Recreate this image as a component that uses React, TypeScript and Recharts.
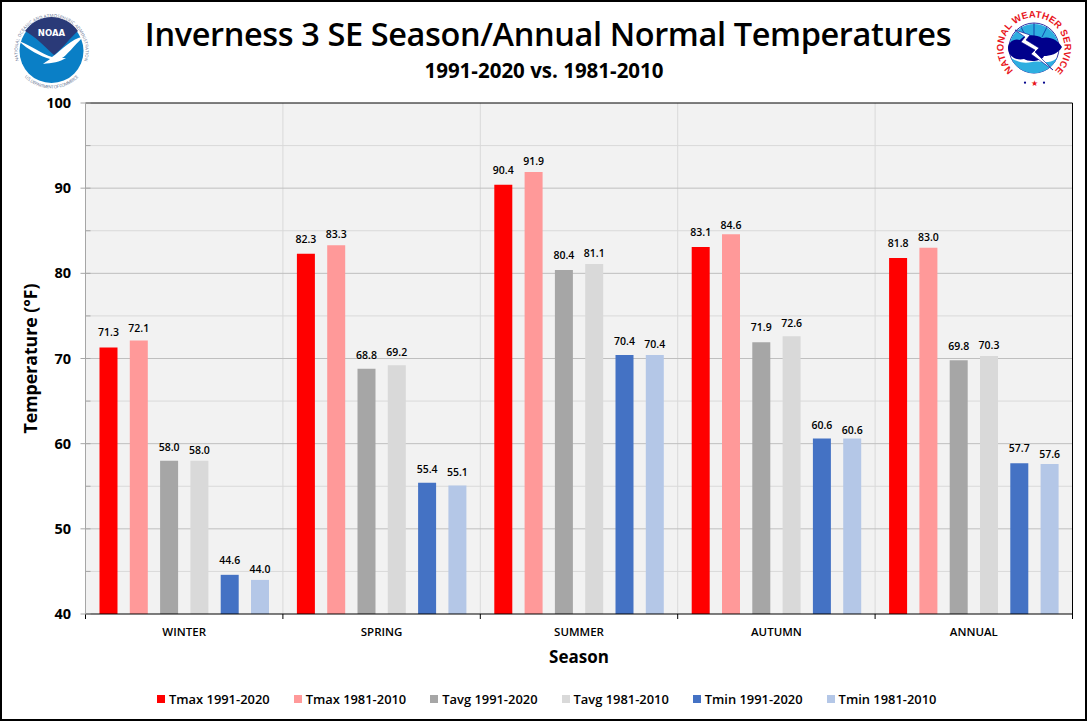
import { BarChart, Bar, XAxis, YAxis, CartesianGrid, Legend, LabelList, ReferenceLine } from 'recharts';

const seasons = ['WINTER', 'SPRING', 'SUMMER', 'AUTUMN', 'ANNUAL'];
const tmax9120 = [71.3, 82.3, 90.4, 83.1, 81.8];
const tmax8110 = [72.1, 83.3, 91.9, 84.6, 83.0];
const tavg9120 = [58.0, 68.8, 80.4, 71.9, 69.8];
const tavg8110 = [58.0, 69.2, 81.1, 72.6, 70.3];
const tmin9120 = [44.6, 55.4, 70.4, 60.6, 57.7];
const tmin8110 = [44.0, 55.1, 70.4, 60.6, 57.6];

const yTicks = [40, 45, 50, 55, 60, 65, 70, 75, 80, 85, 90, 95, 100];
const majorGrid = [50, 60, 70, 80, 90];
const minorGrid = [45, 55, 65, 75, 85, 95];

const series = [
  { key: 'tmax9120', name: 'Tmax 1991-2020', color: '#FF0000', values: tmax9120 },
  { key: 'tmax8110', name: 'Tmax 1981-2010', color: '#FF9999', values: tmax8110 },
  { key: 'tavg9120', name: 'Tavg 1991-2020', color: '#A6A6A6', values: tavg9120 },
  { key: 'tavg8110', name: 'Tavg 1981-2010', color: '#D9D9D9', values: tavg8110 },
  { key: 'tmin9120', name: 'Tmin 1991-2020', color: '#4472C4', values: tmin9120 },
  { key: 'tmin8110', name: 'Tmin 1981-2010', color: '#B4C7E7', values: tmin8110 },
];

// how far each value label floats above its bar, the original's labels are not evenly placed
const labelLift: Record<string, number[]> = {
  tmax9120: [11, 10.5, 10.5, 10.5, 11.5],
  tmax8110: [8.5, 7, 6.5, 5, 6.5],
  tavg9120: [10, 10, 10.5, 11, 10],
  tavg8110: [7, 9.5, 6.5, 9.5, 6.5],
  tmin9120: [10.5, 9.5, 10.5, 10, 11],
  tmin8110: [6.5, 9, 7.5, 5, 6.5],
};

const data = seasons.map((season, i) => {
  const row: Record<string, string | number> = { season };
  series.forEach(s => { row[s.key] = s.values[i]; });
  return row;
});

const FONT = '"Open Sans", "Noto Sans", sans-serif';
const plotLeft = 85.5;
const plotRight = 1072.5;
const plotTop = 103;
const plotBottom = 614;
const band = (plotRight - plotLeft) / seasons.length;

function XTick({ x, index, payload }: any) {
  const left = x - band / 2;
  return (
    <g>
      <line x1={left} x2={left} y1={plotBottom} y2={plotBottom + 5} stroke="#000" />
      {index === seasons.length - 1 && (
        <line x1={plotRight} x2={plotRight} y1={plotTop} y2={plotBottom + 5} stroke="#000" />
      )}
      <text x={x} y={636} textAnchor="middle" fontFamily={FONT} fontSize={11.5} fontWeight={600} fill="#000">
        {payload.value}
      </text>
    </g>
  );
}

function YTick({ y, payload }: any) {
  const major = payload.value % 10 === 0;
  return (
    <g>
      <line x1={major ? plotLeft - 5 : plotLeft} x2={plotLeft + 5} y1={y} y2={y} stroke="#a6a6a6" />
      {major && (
        <text x={71} y={y + 5} textAnchor="end" fontFamily={FONT} fontSize={14.5} fontWeight={700} fill="#000">
          {payload.value}
        </text>
      )}
    </g>
  );
}

function LegendRow({ payload }: any) {
  return (
    <div style={{ display: 'flex', fontFamily: FONT, fontSize: 12.9, fontWeight: 600, color: '#000' }}>
      {(payload || []).map((p: any) => (
        <div key={p.value} style={{ marginRight: 24, display: 'flex', alignItems: 'center', whiteSpace: 'nowrap' }}>
          <span style={{ width: 8, height: 8, background: p.color, marginRight: 4, display: 'inline-block' }} />
          {p.value}
        </div>
      ))}
    </div>
  );
}

function NoaaLogo() {
  return (
    <svg width={80} height={80} viewBox="0 0 80 80" style={{ position: 'absolute', left: 12, top: 12 }}>
      <defs>
        <path id="noaaTop" d="M 7.5 50.6 A 34 34 0 1 1 71.5 50.6" />
        <path id="noaaBottom" d="M 10.8 63.1 A 37.5 37.5 0 0 0 68.2 63.1" />
      </defs>
      <circle cx={39.5} cy={39} r={32} fill="#0a7fc6" />
      <path d="M 13 19 A 32 32 0 0 1 66 19 C 58 26 51 36 42 43 C 33 35 24 25 13 19 Z" fill="#2a3a78" />
      <path d="M 7 29 C 20 34 30 42 40 45 C 50 38 60 26 71 25 C 62 34 54 44 50 46 L 54 46 C 48 50 40 51 31 52 C 35 49 37 48 38 47 C 28 44 16 38 7 29 Z" fill="#fff" />
      <text x={39.5} y={24} textAnchor="middle" fontFamily="DejaVu Sans, sans-serif" fontSize={8.5} fontWeight={700} fill="#fff">NOAA</text>
      <text fontFamily={FONT} fontSize={4.3} fill="#5b6c8c">
        <textPath href="#noaaTop" startOffset="50%" textAnchor="middle" textLength={126}>NATIONAL OCEANIC AND ATMOSPHERIC ADMINISTRATION</textPath>
      </text>
      <text fontFamily={FONT} fontSize={4.3} fill="#5b6c8c">
        <textPath href="#noaaBottom" startOffset="50%" textAnchor="middle" textLength={60}>U.S. DEPARTMENT OF COMMERCE</textPath>
      </text>
    </svg>
  );
}

function NwsLogo() {
  return (
    <svg width={84} height={92} viewBox="0 0 84 92" style={{ position: 'absolute', left: 992, top: 4 }}>
      <defs>
        <path id="nwsTop" d="M 22.4 67.4 A 30.5 30.5 0 1 1 61.6 67.4" />
      </defs>
      <circle cx={42} cy={44} r={25} fill="#fff" stroke="#00008b" strokeWidth={0.8} />
      <path d="M 18 38 A 25 25 0 0 1 66 38 Z" fill="#2eaee0" />
      <path d="M 42 19 L 42 32 M 29 23 L 34 33 M 55 23 L 50 33" stroke="#00008b" strokeWidth={0.6} />
      <path d="M 19 54 A 25 25 0 0 0 65 54 C 55 62 48 56 40 58 C 32 60 26 58 19 54 Z" fill="#2eaee0" />
      <path d="M 16 44 C 16 38 22 34 28 36 C 32 30 44 30 50 34 C 58 32 66 36 70 43 C 66 50 58 52 52 52 C 50 58 36 58 32 55 C 24 57 16 52 16 44 Z" fill="#00008b" />
      <path d="M 23 26 L 38 31 L 34 36 L 47 44 L 43 48 L 61 66 L 39 50 L 43 46 L 29 38 L 33 33 Z" fill="#fff" stroke="#00008b" strokeWidth={0.6} />
      <text fontFamily="Liberation Sans, sans-serif" fontSize={9.5} fontWeight={700} fill="#e8141c">
        <textPath href="#nwsTop" startOffset="50%" textAnchor="middle" textLength={146}>NATIONAL WEATHER SERVICE</textPath>
      </text>
      <circle cx={33} cy={78.7} r={1.1} fill="#00008b" />
      <circle cx={52} cy={78.7} r={1.1} fill="#00008b" />
      <text x={42} y={82} textAnchor="middle" fontSize={8} fill="#e8141c">★</text>
    </svg>
  );
}

export default function App() {
  return (
    <div style={{ position: 'absolute', left: 0, top: 0, width: 1087, height: 721, background: '#fff', overflow: 'hidden' }}>
      <BarChart
        width={1087}
        height={721}
        data={data}
        barSize={18}
        barGap={12.3}
        margin={{ top: plotTop, right: 1087 - plotRight, bottom: 59, left: 0 }}
      >
        <CartesianGrid
          fill="#F2F2F2"
          stroke="#D9D9D9"
          horizontalValues={minorGrid}
          verticalCoordinatesGenerator={() => seasons.slice(1).map((_, i) => plotLeft + band * (i + 1))}
        />
        <CartesianGrid stroke="#BFBFBF" vertical={false} horizontalValues={majorGrid} />
        <XAxis
          dataKey="season"
          height={30}
          axisLine={{ stroke: '#000' }}
          tickLine={false}
          tick={<XTick />}
          interval={0}
          label={{ value: 'Season', position: 'bottom', offset: 7, style: { fontFamily: FONT, fontSize: 17, fontWeight: 700, fill: '#000' } }}
        />
        <YAxis
          width={plotLeft}
          domain={[40, 100]}
          ticks={yTicks}
          interval={0}
          axisLine={{ stroke: '#A6A6A6' }}
          tickLine={false}
          tick={<YTick />}
          label={{
            value: 'Temperature (°F)',
            angle: -90,
            position: 'insideLeft',
            offset: 31,
            style: { textAnchor: 'middle', fontFamily: FONT, fontSize: 17.7, fontWeight: 700, fill: '#000' },
          }}
        />
        <ReferenceLine y={100} stroke="#000" />
        {series.map(s => (
          <Bar key={s.key} dataKey={s.key} name={s.name} fill={s.color} isAnimationActive={false}>
            <LabelList
              dataKey={s.key}
              content={(p: any) => (
                <text
                  x={p.x + p.width / 2}
                  y={p.y - labelLift[s.key][p.index]}
                  textAnchor="middle"
                  fontFamily={FONT}
                  fontSize={10.5}
                  fontWeight={600}
                  fill="#000"
                >
                  {Number(p.value).toFixed(1)}
                </text>
              )}
            />
          </Bar>
        ))}
        <Legend
          height={18}
          itemSorter={null}
          content={<LegendRow />}
          wrapperStyle={{ left: 157, top: 690, width: 880, bottom: 'auto' }}
        />
      </BarChart>
      <div style={{ position: 'absolute', left: 0, top: 11, width: 1096, textAlign: 'center', fontFamily: FONT, fontSize: 32.5, letterSpacing: -0.38, fontWeight: 600, color: '#000', whiteSpace: 'nowrap' }}>
        Inverness 3 SE Season/Annual Normal Temperatures
      </div>
      <div style={{ position: 'absolute', left: 0, top: 56, width: 1088, textAlign: 'center', fontFamily: FONT, fontSize: 20.5, fontWeight: 700, color: '#000', whiteSpace: 'nowrap' }}>
        1991-2020 vs. 1981-2010
      </div>
      <NoaaLogo />
      <NwsLogo />
      <div style={{ position: 'absolute', left: 0, top: 0, width: 1087, height: 721, boxSizing: 'border-box', border: '2px solid #000', pointerEvents: 'none' }} />
    </div>
  );
}
